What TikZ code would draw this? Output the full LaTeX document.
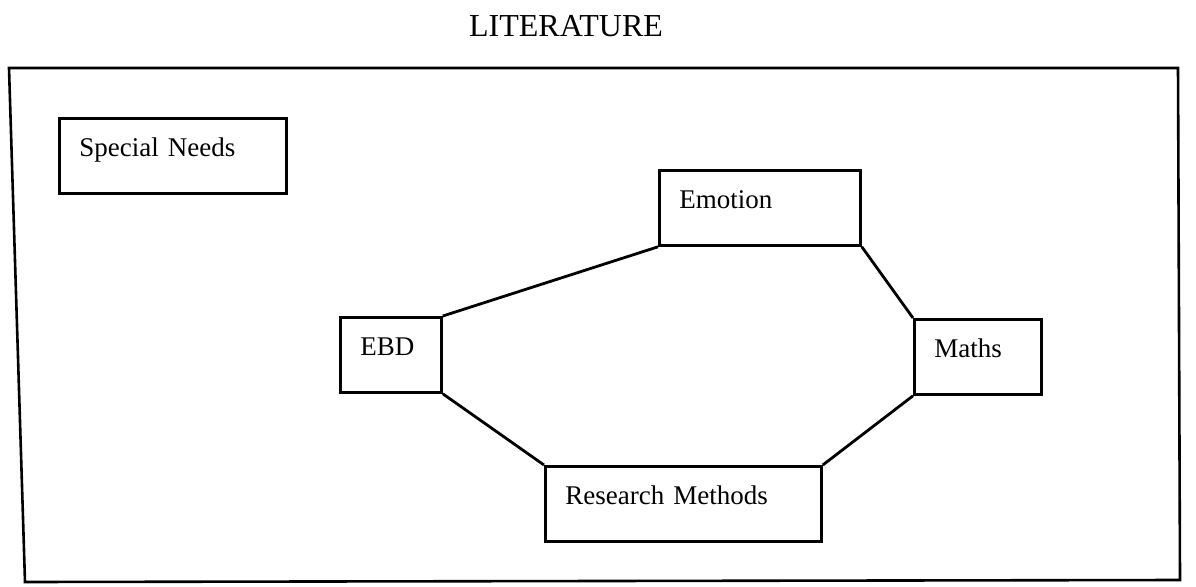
\documentclass[tikz,border=0pt]{standalone}
\usepackage{fontspec}
\setmainfont{Liberation Serif}
\usepackage{tikz}
\usetikzlibrary{calc}
\tikzset{topic/.style={draw, black, line width=2.8pt, anchor=north west, inner xsep=20pt, inner ysep=0pt,
  text height=38pt, text depth=37pt, align=left, font=\fontsize{27}{30}\selectfont}}
\tikzset{link/.style={black, line width=2.8pt}}

\begin{document}
\begin{tikzpicture} [x=1pt,y=-1pt]
\useasboundingbox (0,0) rectangle (1196,586);
\node[anchor=base, font=\fontsize{32}{36}\selectfont] (title) at (566,37) {LITERATURE};
\draw[black,line width=2.6pt] (9,68) -- (1178,68) -- (1180,580) -- (25,582) -- cycle;
\node[topic, text width=187pt] (needs) at (58,117) {Special Needs};
\node[topic, text width=161pt] (emotion) at (658,169) {Emotion};
\node[topic, text width=61pt] (ebd) at (339,316) {EBD};
\node[topic, text width=87pt] (maths) at (913,318) {Maths};
\node[topic, text width=236pt] (research) at (544,465) {Research Methods};
\draw[link] (ebd.north east) -- (emotion.south west);
\draw[link] (emotion.south east) -- (maths.north west);
\draw[link] (ebd.south east) -- (research.north west);
\draw[link] (maths.south west) -- (research.north east);
\end{tikzpicture}
\end{document}
